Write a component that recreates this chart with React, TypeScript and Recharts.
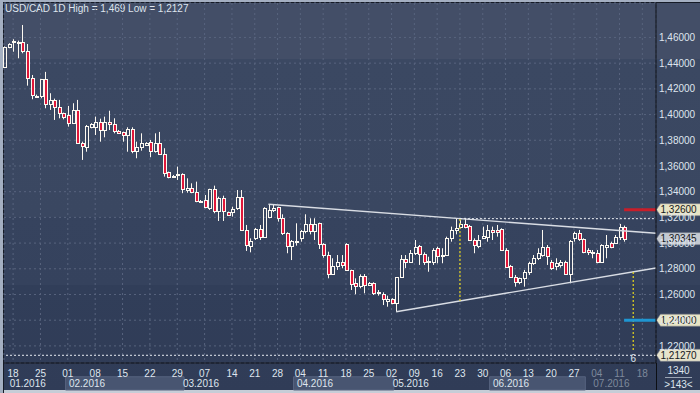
import { Bar, CartesianGrid, ComposedChart, ReferenceArea, ReferenceDot, ReferenceLine, XAxis, YAxis } from 'recharts'

// daily USD/CAD candles, 18.01.2016 .. 12.07.2016
const opens = [
	1.4368, 1.4528, 1.4565, 1.4568, 1.4563, 1.4495, 1.4283, 1.4147, 1.4145, 1.4275,
	1.4083, 1.4114, 1.4057, 1.4010, 1.3995, 1.3932, 1.4036, 1.3777, 1.3750, 1.3906,
	1.3901, 1.3942, 1.3880, 1.3942, 1.3925, 1.3872, 1.3862, 1.3841, 1.3886, 1.3717,
	1.3750, 1.3766, 1.3789, 1.3717, 1.3777, 1.3691, 1.3551, 1.3520, 1.3536, 1.3538,
	1.3413, 1.3431, 1.3400, 1.3330, 1.3335, 1.3271, 1.3421, 1.3250, 1.3349, 1.3240,
	1.3244, 1.3271, 1.3361, 1.3102, 1.2980, 1.3037, 1.3107, 1.3050, 1.3206, 1.3258,
	1.3279, 1.3193, 1.3076, 1.2977, 1.3014, 1.3042, 1.3094, 1.3146, 1.3094, 1.3154,
	1.2991, 1.2907, 1.2760, 1.2822, 1.2851, 1.2991, 1.2791, 1.2687, 1.2666, 1.2744,
	1.2674, 1.2687, 1.2609, 1.2604, 1.2549, 1.2563, 1.2532, 1.2734, 1.2876, 1.2855,
	1.2921, 1.2977, 1.2915, 1.2855, 1.2855, 1.2960, 1.2897, 1.2908, 1.3037, 1.3102,
	1.3128, 1.3146, 1.3133, 1.3024, 1.2980, 1.3040, 1.3050, 1.3102, 1.3102, 1.3110,
	1.2946, 1.2822, 1.2739, 1.2695, 1.2726, 1.2777, 1.2843, 1.2882, 1.2907, 1.2972,
	1.2851, 1.2825, 1.2830, 1.2855, 1.2760, 1.3037, 1.3076, 1.3030, 1.2946, 1.2921,
	1.2921, 1.2855, 1.2967, 1.3003, 1.3003, 1.3050, 1.3123,
]
const highs = [
	1.4530, 1.4555, 1.4586, 1.4575, 1.4697, 1.4549, 1.4308, 1.4155, 1.4277, 1.4332,
	1.4166, 1.4124, 1.4114, 1.4015, 1.4067, 1.4088, 1.4114, 1.3789, 1.3919, 1.3933,
	1.3984, 1.3968, 1.3984, 1.4030, 1.3971, 1.3880, 1.3867, 1.3901, 1.3901, 1.3789,
	1.3854, 1.3785, 1.3802, 1.3854, 1.3865, 1.3738, 1.3556, 1.3530, 1.3595, 1.3543,
	1.3504, 1.3465, 1.3478, 1.3335, 1.3374, 1.3423, 1.3447, 1.3361, 1.3369, 1.3245,
	1.3283, 1.3413, 1.3413, 1.3141, 1.3037, 1.3118, 1.3141, 1.3279, 1.3302, 1.3297,
	1.3283, 1.3224, 1.3084, 1.3024, 1.3154, 1.3102, 1.3224, 1.3193, 1.3193, 1.3159,
	1.2999, 1.2933, 1.2882, 1.2907, 1.2907, 1.2999, 1.2793, 1.2726, 1.2757, 1.2759,
	1.2697, 1.2695, 1.2635, 1.2617, 1.2591, 1.2571, 1.2736, 1.2907, 1.2907, 1.2946,
	1.3024, 1.2985, 1.2928, 1.2894, 1.2960, 1.2972, 1.2960, 1.3050, 1.3128, 1.3193,
	1.3180, 1.3193, 1.3141, 1.3037, 1.3063, 1.3128, 1.3141, 1.3128, 1.3141, 1.3115,
	1.2960, 1.2830, 1.2752, 1.2731, 1.2791, 1.2855, 1.2907, 1.2960, 1.3102, 1.2985,
	1.2868, 1.2882, 1.2868, 1.2863, 1.3024, 1.3089, 1.3102, 1.3037, 1.2960, 1.2946,
	1.2946, 1.2991, 1.3063, 1.3011, 1.3063, 1.3149, 1.3136,
]
const lows = [
	1.4365, 1.4516, 1.4489, 1.4438, 1.4477, 1.4225, 1.4119, 1.4139, 1.4127, 1.4049,
	1.4036, 1.3958, 1.3971, 1.3963, 1.3906, 1.3927, 1.3771, 1.3647, 1.3711, 1.3893,
	1.3841, 1.3789, 1.3823, 1.3880, 1.3854, 1.3849, 1.3789, 1.3711, 1.3699, 1.3660,
	1.3719, 1.3761, 1.3668, 1.3704, 1.3686, 1.3517, 1.3504, 1.3515, 1.3491, 1.3388,
	1.3392, 1.3388, 1.3318, 1.3320, 1.3271, 1.3258, 1.3232, 1.3172, 1.3172, 1.3212,
	1.3206, 1.3258, 1.3094, 1.2939, 1.2928, 1.3024, 1.3024, 1.3046, 1.3193, 1.3242,
	1.3167, 1.3063, 1.2921, 1.2868, 1.2980, 1.3011, 1.3076, 1.3068, 1.3024, 1.2954,
	1.2886, 1.2726, 1.2752, 1.2791, 1.2804, 1.2785, 1.2635, 1.2602, 1.2648, 1.2609,
	1.2666, 1.2596, 1.2591, 1.2518, 1.2505, 1.2524, 1.2466, 1.2730, 1.2806, 1.2850,
	1.2907, 1.2830, 1.2830, 1.2777, 1.2830, 1.2843, 1.2843, 1.2907, 1.3011, 1.3068,
	1.3115, 1.3115, 1.3016, 1.2921, 1.2960, 1.3037, 1.3011, 1.3024, 1.3050, 1.2939,
	1.2809, 1.2731, 1.2661, 1.2680, 1.2661, 1.2752, 1.2830, 1.2868, 1.2894, 1.2830,
	1.2791, 1.2789, 1.2809, 1.2752, 1.2687, 1.3011, 1.3016, 1.2921, 1.2907, 1.2882,
	1.2843, 1.2845, 1.2882, 1.2960, 1.2993, 1.3024, 1.3011,
]
const closes = [
	1.4528, 1.4547, 1.4569, 1.4563, 1.4495, 1.4283, 1.4153, 1.4143, 1.4275, 1.4083,
	1.4114, 1.4057, 1.4015, 1.3979, 1.3932, 1.4036, 1.3777, 1.3756, 1.3911, 1.3925,
	1.3942, 1.3880, 1.3942, 1.3925, 1.3872, 1.3854, 1.3841, 1.3886, 1.3717, 1.3750,
	1.3777, 1.3777, 1.3717, 1.3777, 1.3691, 1.3543, 1.3517, 1.3524, 1.3540, 1.3419,
	1.3431, 1.3400, 1.3328, 1.3326, 1.3279, 1.3421, 1.3252, 1.3349, 1.3250, 1.3219,
	1.3263, 1.3361, 1.3102, 1.2985, 1.3016, 1.3107, 1.3050, 1.3276, 1.3258, 1.3271,
	1.3193, 1.3076, 1.2977, 1.3016, 1.3018, 1.3094, 1.3146, 1.3094, 1.3146, 1.2991,
	1.2907, 1.2760, 1.2822, 1.2851, 1.2830, 1.2791, 1.2679, 1.2666, 1.2744, 1.2674,
	1.2687, 1.2609, 1.2617, 1.2563, 1.2565, 1.2532, 1.2734, 1.2876, 1.2855, 1.2921,
	1.2972, 1.2915, 1.2855, 1.2862, 1.2946, 1.2900, 1.2908, 1.3042, 1.3102, 1.3115,
	1.3146, 1.3128, 1.3024, 1.2985, 1.3024, 1.3054, 1.3102, 1.3089, 1.3084, 1.2946,
	1.2816, 1.2739, 1.2695, 1.2726, 1.2777, 1.2843, 1.2882, 1.2921, 1.2972, 1.2900,
	1.2809, 1.2843, 1.2855, 1.2760, 1.3016, 1.3076, 1.3030, 1.2933, 1.2928, 1.2933,
	1.2855, 1.2985, 1.2985, 1.2967, 1.3050, 1.3123, 1.30345,
]
const futureSlots = 7

const dayTicks = [2, 8, 14, 20, 26, 32, 38, 44, 50, 55, 60, 65, 70, 75, 80, 85, 90, 95, 100, 105, 110, 115, 120, 125, 130, 135, 140]
const dayLabels = ['18', '25', '01', '08', '15', '22', '29', '07', '14', '21', '28', '04', '11', '18', '25', '02', '09', '16', '23', '30', '06', '13', '20', '27', '04', '11', '18']
const priceTicks = [1.22, 1.24, 1.26, 1.28, 1.3, 1.32, 1.34, 1.36, 1.38, 1.4, 1.42, 1.44, 1.46]

const months = [
	{ label: '01.2016', from: 1, to: 14, shaded: false },
	{ label: '02.2016', from: 14, to: 39, shaded: true },
	{ label: '03.2016', from: 39, to: 64, shaded: false },
	{ label: '04.2016', from: 64, to: 85, shaded: true },
	{ label: '05.2016', from: 85, to: 107, shaded: false },
	{ label: '06.2016', from: 107, to: 127, shaded: true },
	{ label: '07.2016', from: 129, to: 143, shaded: false },
]

const upperTrend = [{ x: 58, y: 1.3302 }, { x: 143, y: 1.3076 }]
const lowerTrend = [{ x: 86, y: 1.2466 }, { x: 143, y: 1.2806 }]
const resistance = [{ x: 100, y: 1.319 }, { x: 143, y: 1.319 }]
const entryHeight = [{ x: 100, y: 1.3187 }, { x: 100, y: 1.2549 }]
const targetHeight = [{ x: 138, y: 1.2775 }, { x: 138, y: 1.2169 }]
const stopLevel = [{ x: 136, y: 1.326 }, { x: 143, y: 1.326 }]
const targetLevel = [{ x: 136, y: 1.24 }, { x: 143, y: 1.24 }]
const periodLow = 1.2127

const tags = [
	{ value: 1.326, text: '1,32600', bg: '#e8e4c4' },
	{ value: 1.30345, text: '1,30345', bg: '#c4c9d1' },
	{ value: 1.24, text: '1,24000', bg: '#e8e4c4' },
	{ value: 1.2127, text: '1,21270', bg: '#e6e3cc' },
]

const candles = opens.map((o, i) => ({ i, open: o, high: highs[i], low: lows[i], close: closes[i] }))
const slots = [...candles, ...Array.from({ length: futureSlots }, (_, k) => ({ i: opens.length + k }))]

const FONT = "'Liberation Sans', Arial, sans-serif"
const FS = 10
const TEXT = '#dfe5ee'
const WICK = '#fdf9f1'

const Candle = (props: any) => {
	const { x, y, width, height, payload } = props
	if (!payload || payload.high == null || !height) return null
	const k = height / (payload.high - payload.low)
	const yOf = (v: number) => y + (payload.high - v) * k
	const cx = Math.round(x + width / 2) + 0.5
	const yo = yOf(payload.open)
	const yc = yOf(payload.close)
	const top = Math.round(Math.min(yo, yc)) + 0.5
	let bot = Math.round(Math.max(yo, yc)) + 0.5
	if (bot - top < 1) bot = top + 1
	const up = payload.close >= payload.open
	return (
		<g>
			<line x1={cx} x2={cx} y1={y} y2={top} stroke={WICK} />
			<line x1={cx} x2={cx} y1={bot} y2={y + height} stroke={WICK} />
			<rect x={cx - 1} y={top} width={3} height={bot - top} fill={up ? 'none' : '#e0173a'} stroke={WICK} />
		</g>
	)
}

const DayTick = ({ x, y, payload }: any) => {
	const idx = dayTicks.indexOf(payload.value)
	return (
		<text x={x} y={y + 12} textAnchor='middle' fontSize={FS} fontFamily={FONT}
			fill={payload.value >= 130 ? '#7e899b' : TEXT}>{dayLabels[idx]}</text>
	)
}

const PriceTick = ({ x, y, payload }: any) => (
	<text x={x} y={y + 3.6} fontSize={FS} fontFamily={FONT} fill={TEXT}>
		{payload.value.toFixed(5).replace('.', ',')}
	</text>
)

const PriceTag = ({ viewBox, text, bg }: any) => {
	if (!viewBox) return null
	const left = viewBox.x + viewBox.width + 0.5
	const y = viewBox.y
	return (
		<g>
			<polygon points={`${left},${y} ${left + 4},${y - 6} ${left + 44},${y - 6} ${left + 44},${y + 6} ${left + 4},${y + 6}`}
				fill={bg} stroke='#7d838e' strokeWidth={0.6} />
			<text x={left + 4} y={y + 3.6} fontSize={FS} fontFamily={FONT} fill='#14171c'>{text}</text>
		</g>
	)
}

export default function App() {
	return (
		<div style={{
			position: 'absolute', left: 0, top: 0, width: 700, height: 393, overflow: 'hidden', fontFamily: FONT,
			background: 'linear-gradient(to bottom, #434e67 0px, #434e67 59px, #3b4862 59px, #3a4761 217px, #36435e 217px, #35425d 285px, #313e59 285px, #303c57 393px)',
			boxShadow: 'inset 3px 2px 0 #a4afc1, inset 4px 3px 0 #161b26, inset 0 -3px 0 #c6cdd7',
		}}>
			<div style={{ position: 'absolute', left: 5, top: 3, fontSize: FS, lineHeight: '11px', color: TEXT, whiteSpace: 'nowrap' }}>
				USD/CAD 1D High = 1,469 Low = 1,2127
			</div>
			<div style={{ position: 'absolute', left: 0, top: 0 }}>
				<ComposedChart width={700} height={393} data={slots} margin={{ top: 3, right: 0, bottom: 0, left: 4 }}>
					<CartesianGrid stroke='#58647e' strokeDasharray='2 3' />
					<XAxis dataKey='i' ticks={dayTicks} interval={0} tick={<DayTick />} tickLine={false} tickSize={0}
						axisLine={{ stroke: '#0c0f14' }} height={30} padding={{ left: -2.3, right: -2.3 }} />
					<YAxis orientation='right' type='number' domain={[1.2067, 1.4868]} ticks={priceTicks} interval={0}
						allowDataOverflow width={44} tick={<PriceTick />} tickLine={false} tickSize={0} tickMargin={3}
						axisLine={{ stroke: '#0c0f14' }} />
					{months.map(m => (
						<ReferenceArea key={m.label} x1={m.from} x2={m.to} y1={1.196} y2={1.1857} ifOverflow='visible'
							fill={m.shaded ? '#485571' : 'none'} fillOpacity={1} stroke={m.shaded ? '#56637f' : 'none'}
							label={{ value: m.label, position: 'insideLeft', offset: 3.4, fontSize: FS, fontFamily: FONT, fill: m.from >= 129 ? '#7e899b' : TEXT }} />
					))}
					<Bar dataKey={(d: any) => (d.high == null ? null : [d.low, d.high])} shape={<Candle />} isAnimationActive={false} />
					<ReferenceLine y={periodLow} stroke='#e8ecf2' strokeDasharray='2 2' />
					<ReferenceLine segment={upperTrend} stroke='#d9dde4' strokeWidth={1.4} ifOverflow='visible' />
					<ReferenceLine segment={lowerTrend} stroke='#d9dde4' strokeWidth={1.4} ifOverflow='visible' />
					<ReferenceLine segment={resistance} stroke='#eef1f5' strokeDasharray='2 2' ifOverflow='visible' />
					<ReferenceLine segment={entryHeight} stroke='#e8d81c' strokeDasharray='2 2' strokeWidth={1.2} />
					<ReferenceLine segment={targetHeight} stroke='#e8d81c' strokeDasharray='2 2' strokeWidth={1.2} ifOverflow='visible' />
					<ReferenceLine segment={stopLevel} stroke='#c81e2a' strokeWidth={3} ifOverflow='visible' />
					<ReferenceLine segment={targetLevel} stroke='#1f96d2' strokeWidth={3} ifOverflow='visible' />
					<ReferenceDot x={138} y={1.2106} r={0} fill='none' stroke='none'
						label={{ value: '6', position: 'center', fontSize: FS, fontFamily: FONT, fill: TEXT }} />
					{tags.map(t => (
						<ReferenceLine key={t.text} y={t.value} stroke='none' ifOverflow='visible'
							label={<PriceTag text={t.text} bg={t.bg} />} />
					))}
				</ComposedChart>
			</div>
			<div style={{ position: 'absolute', left: 663, top: 365, width: 31, textAlign: 'center', fontSize: FS, lineHeight: '11px', color: TEXT }}>1340</div>
			<div style={{ position: 'absolute', left: 665, top: 377, width: 27, height: 1, background: '#9aa4b4' }} />
			<div style={{ position: 'absolute', left: 663, top: 379, width: 31, textAlign: 'center', fontSize: FS, lineHeight: '11px', color: TEXT }}>&gt;143&lt;</div>
			<div style={{ position: 'absolute', left: 656, top: 363, width: 1, height: 27, background: '#0c0f14' }} />
		</div>
	)
}
